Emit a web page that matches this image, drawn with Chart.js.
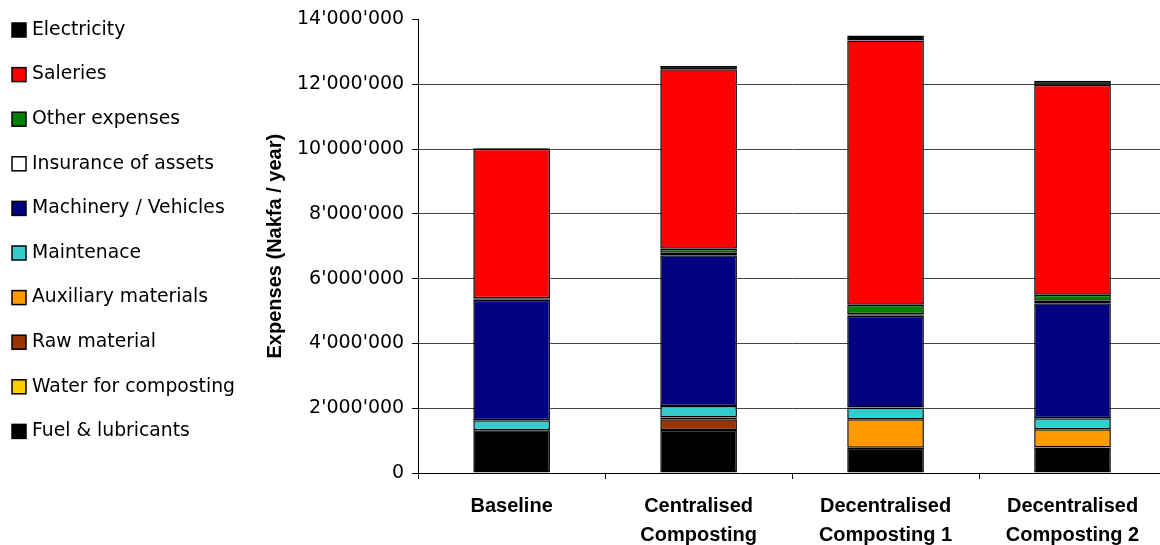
<!DOCTYPE html>
<html>
<head>
<meta charset="utf-8">
<script src="https://cdn.jsdelivr.net/npm/chart.js@4/dist/chart.umd.min.js"></script>
<style>
    body { margin: 0; background: #fff; overflow: hidden; }
    #wrap { width: 1166px; height: 545px; position: relative; }
</style>
</head>
<body>
<div id="wrap"><canvas id="costChart"></canvas></div>
<script>
// Categories (x axis, two-line labels)
const categories = [
    ['Baseline'],
    ['Centralised', 'Composting'],
    ['Decentralised', 'Composting 1'],
    ['Decentralised', 'Composting 2']
];

// Series values, Nakfa / year (stacked bottom to top)
const fuelLubricants    = [1320000, 1330000, 780000, 790000];
const waterComposting   = [0, 0, 0, 0];
const rawMaterial       = [0, 330000, 0, 0];
const auxiliaryMaterials = [0, 50000, 880000, 560000];
const maintenance       = [310000, 360000, 360000, 340000];
const machineryVehicles = [3720000, 4650000, 2830000, 3550000];
const insuranceAssets   = [20000, 80000, 50000, 80000];
const otherExpenses     = [20000, 120000, 290000, 180000];
const salaries          = [4620000, 5540000, 8160000, 6480000];
const electricity       = [20000, 100000, 150000, 130000];

// Y axis ticks
const yTicks = [0, 2000000, 4000000, 6000000, 8000000, 10000000, 12000000, 14000000];

// Format 14000000 -> 14'000'000
function formatNakfa(value) {
    return String(Math.round(value)).replace(/\B(?=(\d{3})+(?!\d))/g, "'");
}

// Build one stacked dataset
function series(label, data, color) {
    return {
        label: label,
        data: data,
        backgroundColor: color,
        borderColor: '#000',
        borderWidth: 1.5,
        borderSkipped: false,
        categoryPercentage: 1,
        barPercentage: 0.41
    };
}

const datasets = [
    series('Fuel & lubricants', fuelLubricants, '#000000'),
    series('Water for composting', waterComposting, '#FFCC00'),
    series('Raw material', rawMaterial, '#993300'),
    series('Auxiliary materials', auxiliaryMaterials, '#FF9900'),
    series('Maintenace', maintenance, '#33CCCC'),
    series('Machinery / Vehicles', machineryVehicles, '#000080'),
    series('Insurance of assets', insuranceAssets, '#FFFFFF'),
    series('Other expenses', otherExpenses, '#008000'),
    series('Saleries', salaries, '#FF0000'),
    series('Electricity', electricity, '#000000')
];

// Legend on the left, top item = last dataset
const sideLegend = {
    id: 'sideLegend',
    afterDraw(chart) {
        const ctx = chart.ctx;
        const items = chart.data.datasets.slice().reverse();
        ctx.save();
        ctx.font = '18.8px "DejaVu Sans", sans-serif';
        ctx.textBaseline = 'middle';
        ctx.textAlign = 'left';
        items.forEach((ds, i) => {
            const y = 30 + i * 44.6;
            ctx.fillStyle = ds.backgroundColor;
            ctx.fillRect(12, y - 7, 14, 14);
            ctx.lineWidth = 1.5;
            ctx.strokeStyle = '#000';
            ctx.strokeRect(12, y - 7, 14, 14);
            ctx.fillStyle = '#000';
            ctx.fillText(ds.label, 32, y);
        });
        ctx.restore();
    }
};

const ctx = document.getElementById('costChart');
new Chart(ctx, {
    type: 'bar',
    data: {
        labels: categories,
        datasets: datasets
    },
    options: {
        responsive: true,
        maintainAspectRatio: false,
        animation: false,
        layout: {
            padding: { left: 259, right: 0, top: 19, bottom: -17 }
        },
        plugins: {
            legend: { display: false },
            tooltip: { enabled: false }
        },
        scales: {
            x: {
                stacked: true,
                grid: {
                    drawOnChartArea: false,
                    drawTicks: true,
                    tickLength: 6,
                    tickColor: '#000'
                },
                border: { display: true, color: '#000', width: 1 },
                ticks: {
                    color: '#000',
                    padding: 12.5,
                    maxRotation: 0,
                    autoSkip: false,
                    font: { family: '"Liberation Sans", Arial, sans-serif', size: 20, weight: 'bold', lineHeight: 1.45 }
                }
            },
            y: {
                stacked: true,
                min: 0,
                max: 14000000,
                afterBuildTicks(scale) {
                    scale.ticks = yTicks.map(v => ({ value: v }));
                },
                grid: {
                    color: c => (c.tick && c.tick.value === 14000000) ? 'rgba(0,0,0,0)' : '#444',
                    lineWidth: 1,
                    drawTicks: true,
                    tickLength: 6,
                    tickColor: '#000'
                },
                border: { display: true, color: '#000', width: 1 },
                ticks: {
                    color: '#000',
                    padding: 8,
                    font: { family: '"DejaVu Sans", sans-serif', size: 19 },
                    callback: value => formatNakfa(value)
                },
                title: {
                    display: true,
                    text: 'Expenses (Nakfa / year)',
                    color: '#000',
                    padding: { top: 4, bottom: 2 },
                    font: { family: '"Liberation Sans", Arial, sans-serif', size: 20, weight: 'bold', lineHeight: 1.2 }
                }
            }
        }
    },
    plugins: [sideLegend]
});
</script>
</body>
</html>
